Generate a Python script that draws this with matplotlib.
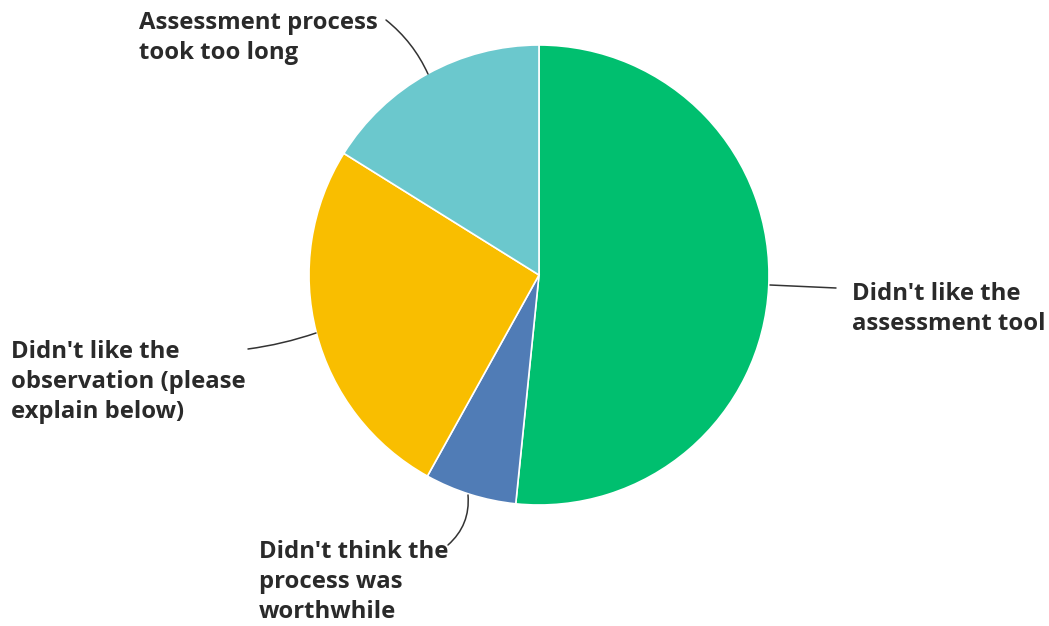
import matplotlib.pyplot as plt

labels = ["Didn't like the\nassessment tool",
          "Didn't think the\nprocess was\nworthwhile",
          "Didn't like the\nobservation (please\nexplain below)",
          "Assessment process\ntook too long"]
counts = [16, 2, 8, 5]
colors = ["#00BF6F", "#507CB6", "#F9BE00", "#6BC8CD"]

W, H = 1049, 626
fig = plt.figure(figsize=(W / 100, H / 100), dpi=100)
ax = fig.add_axes([0, 0, 1, 1])

cx, cy, r = 539, H - 275, 230
ax.pie(counts, colors=colors, startangle=90, counterclock=False,
       center=(cx, cy), radius=r,
       wedgeprops=dict(edgecolor="white", linewidth=1.2))
ax.set_xlim(0, W)
ax.set_ylim(0, H)
ax.set_aspect("equal")
ax.axis("off")

font = dict(family="Open Sans", fontweight="bold", fontsize=17.2,
            color="#2a2a2a", linespacing=1.33)

# label text positions (left edge, vertical centre) and leader lines
text_pos = [(852, H - 309), (259, H - 582), (11, H - 382), (139, H - 38)]
line_ends = [((836, H - 288), (770, H - 285), 0.0),
             ((448, H - 545), (468, H - 495), 0.25),
             ((248, H - 349), (316, H - 333), 0.05),
             ((386, H - 20), (428, H - 74), -0.12)]

for lab, (tx, ty) in zip(labels, text_pos):
    ax.text(tx, ty, lab, ha="left", va="center", **font)

for (p0, p1, rad) in line_ends:
    ax.annotate("", xy=p1, xytext=p0,
                arrowprops=dict(arrowstyle="-", color="#333333", lw=1.1,
                                connectionstyle=f"arc3,rad={rad}",
                                shrinkA=0, shrinkB=0))

fig.savefig("out.png", dpi=100, facecolor="white")
